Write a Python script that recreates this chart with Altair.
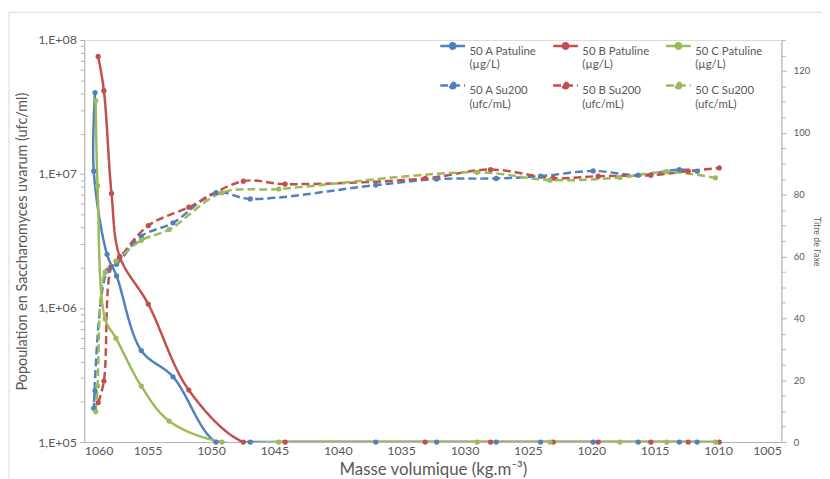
import altair as alt
import pandas as pd

# ---- data ----
series_names = ["50 A Patuline|(µg/L)", "50 B Patuline|(µg/L)", "50 C Patuline|(µg/L)",
                "50 A Su200|(ufc/mL)", "50 B Su200|(ufc/mL)", "50 C Su200|(ufc/mL)"]

dens_A = [1059.15, 1059.25, 1058.2, 1057.45, 1055.5, 1053.0, 1049.6, 1046.9, 1037.0,
          1032.2, 1027.5, 1024.0, 1019.85, 1016.3, 1013.05, 1011.65]
pat_A = [113, 87.6, 60.7, 53.7, 29.6, 21.1, 0, 0, 0, 0, 0, 0, 0, 0, 0, 0]
su_A = [2.41e5, 1.79e5, 1.89e6, 2.12e6, 3.44e6, 4.32e6, 7.26e6, 6.52e6, 8.27e6,
        9.16e6, 9.27e6, 9.63e6, 1.054e7, 9.8e6, 1.08e7, 1.05e7]

dens_B = [1058.9, 1058.45, 1057.85, 1057.2, 1054.95, 1051.75, 1047.45, 1044.15, 1033.1,
          1027.95, 1023.0, 1019.45, 1015.3, 1012.35, 1009.9]
pat_B = [124.7, 113.6, 80.4, 60.0, 44.6, 16.8, 0, 0, 0, 0, 0, 0, 0, 0, 0]
su_B = [1.97e5, 2.85e5, 2.05e6, 2.39e6, 4.12e6, 5.66e6, 8.85e6, 8.41e6, 9.27e6,
        1.08e7, 9.3e6, 9.64e6, 9.8e6, 1.05e7, 1.11e7]

dens_C = [1059.1, 1058.95, 1058.35, 1057.5, 1055.5, 1053.3, 1049.15, 1044.65, 1029.0,
          1023.25, 1017.75, 1014.05, 1010.2]
pat_C = [110.4, 82.9, 39.8, 33.6, 18.1, 6.8, 0, 0, 0, 0, 0, 0, 0]
su_C = [1.69e5, 2.62e5, 1.85e6, 2.24e6, 3.2e6, 3.85e6, 7.26e6, 7.73e6, 1.03e7,
        9.0e6, 9.42e6, 1.04e7, 9.36e6]

x_ticks = [1060, 1055, 1050, 1045, 1040, 1035, 1030, 1025, 1020, 1015, 1010, 1005]
log_ticks = [k * d for d in [1e5, 1e6, 1e7] for k in range(1, 10)] + [1e8]
right_ticks = list(range(0, 131, 5))

colors = ["#4F81BD", "#C0504D", "#9BBB59", "#4F81BD", "#C0504D", "#9BBB59"]
dashes = [[1, 0], [1, 0], [1, 0], [8, 4], [8, 4], [8, 4]]

def long(names, dens_list, val_list):
    rows = []
    for n, ds, vs in zip(names, dens_list, val_list):
        for i, (d, v) in enumerate(zip(ds, vs)):
            rows.append({"series": n, "idx": i, "dens": d, "val": v})
    return pd.DataFrame(rows)

df_pat = long(series_names[:3], [dens_A, dens_B, dens_C], [pat_A, pat_B, pat_C])
df_su = long(series_names[3:], [dens_A, dens_B, dens_C], [su_A, su_B, su_C])

FONT = "Lato"
GREY = "#595959"
AXC = "#B3B3B3"

legend = alt.Legend(
    orient="none", legendX=358, legendY=-8, columns=3, direction="horizontal", title=None,
    symbolType="M-1,0H1M0.22,0A0.22,0.22,0,1,1,-0.22,0A0.22,0.22,0,1,1,0.22,0",
    symbolSize=625, symbolStrokeWidth=2.5, symbolOffset=0,
    labelExpr="split(datum.label, '|')", labelFontSize=11.5, labelColor=GREY,
    labelFont=FONT, labelBaseline="top", labelOffset=3,
    columnPadding=11, rowPadding=1, labelLimit=200,
)

color = alt.Color("series:N", scale=alt.Scale(domain=series_names, range=colors), legend=legend)
dash = alt.StrokeDash("series:N", scale=alt.Scale(domain=series_names, range=dashes), legend=legend)

x_enc = alt.X("dens:Q", scale=alt.Scale(domain=[1005, 1060], reverse=True, nice=False, zero=False),
              axis=alt.Axis(values=x_ticks, format="d", title="Masse volumique (kg.m⁻³)", ticks=False,
                            labelFontSize=12.5, labelColor=GREY, labelFont=FONT, labelPadding=3,
                            titleFontSize=17, titleFontWeight="normal", titleColor=GREY,
                            titleFont=FONT, titlePadding=4, domainColor=AXC, grid=False,
                            labelOverlap=False))

decade_test = "indexof([100000, 1000000, 10000000, 100000000], datum.value) >= 0"
y_left = alt.Y("val:Q", scale=alt.Scale(type="log", domain=[1e5, 1e8], nice=False),
               axis=alt.Axis(orient="left", values=log_ticks,
                             labelExpr=decade_test + " ? '1,E+0' + format(log(datum.value)/LN10, '.0f') : ''",
                             tickSize={"condition": {"test": decade_test, "value": 5}, "value": 4},
                             title="Popoulation en Saccharomyces uvarum (ufc/ml)",
                             titleFontSize=14.5, titleFontWeight="normal", titleColor=GREY, titleFont=FONT,
                             titlePadding=8, labelFontSize=12.5, labelColor=GREY, labelFont=FONT,
                             labelPadding=3, domainColor=AXC, tickColor=AXC, grid=False,
                             labelOverlap=False))
y_right = alt.Y("val:Q", scale=alt.Scale(domain=[0, 130], nice=False),
                axis=alt.Axis(orient="right", values=right_ticks,
                              labelExpr="datum.value % 20 == 0 ? datum.label : ''",
                              tickSize={"condition": {"test": "datum.value % 20 == 0", "value": 5}, "value": 4},
                              title="Titre de l'axe", titleFontSize=9, titleFontWeight="normal",
                              titleColor=GREY, titleFont=FONT, titlePadding=2,
                              labelFontSize=9.5, labelColor=GREY, labelFont=FONT, labelPadding=7,
                              domainColor=AXC, tickColor=AXC, grid=False, labelOverlap=False))

su_line = alt.Chart(df_su).mark_line(interpolate="catmull-rom", strokeWidth=2.5).encode(
    x=x_enc, y=y_left, color=color, strokeDash=dash, order=alt.Order("idx:Q"))
su_pts = alt.Chart(df_su).mark_circle(size=28, opacity=1).encode(
    x=x_enc, y=y_left, color=alt.Color("series:N", scale=alt.Scale(domain=series_names, range=colors), legend=None))
su_layer = alt.layer(su_line, su_pts)

pat_line = alt.Chart(df_pat).mark_line(interpolate="catmull-rom", strokeWidth=2.5, clip=True).encode(
    x=x_enc, y=y_right, color=color, strokeDash=dash, order=alt.Order("idx:Q"))
pat_pts = alt.Chart(df_pat).mark_circle(size=28, opacity=1).encode(
    x=x_enc, y=y_right, color=alt.Color("series:N", scale=alt.Scale(domain=series_names, range=colors), legend=None))
pat_layer = alt.layer(pat_line, pat_pts)

frame = pd.DataFrame({"a": [0]})
top_rule = alt.Chart(frame).mark_rule(color="#D9D9D9", strokeWidth=1).encode(
    x=alt.value(-76), x2=alt.value(760), y=alt.value(-28))
left_rule = alt.Chart(frame).mark_rule(color="#D9D9D9", strokeWidth=1).encode(
    x=alt.value(-76), y=alt.value(-28), y2=alt.value(450))

chart = alt.layer(top_rule, left_rule, su_layer, pat_layer).resolve_scale(
    y="independent"
).properties(
    width=704, height=406,
    padding={"left": 77, "top": 30, "right": 41, "bottom": 35},
    autosize=alt.AutoSizeParams(type="none"),
).configure_view(stroke=None).configure(font=FONT)

chart.save("out.html", embed_options={"renderer": "svg", "actions": False})
